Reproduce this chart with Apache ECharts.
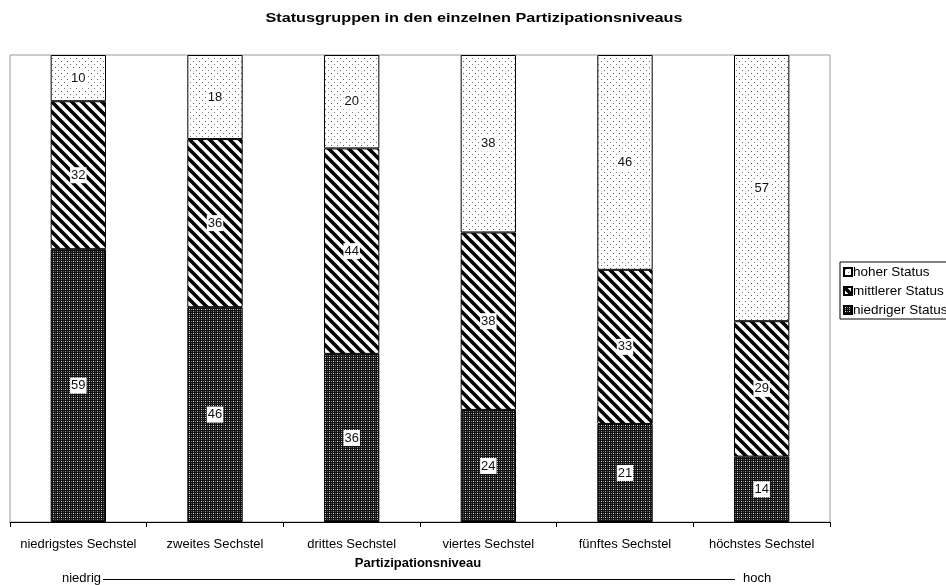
<!DOCTYPE html>
<html>
<head>
<meta charset="utf-8">
<script src="https://cdn.jsdelivr.net/npm/echarts@6/dist/echarts.min.js"></script>
<style>
  html, body { margin: 0; padding: 0; background: #fff; }
  #chart { width: 946px; height: 585px; }
</style>
</head>
<body>
<div id="chart"></div>
<script>
// Partizipationsniveau (Sechstel) and the share of each status group, in percent
const categories = ['niedrigstes Sechstel', 'zweites Sechstel', 'drittes Sechstel', 'viertes Sechstel', 'fünftes Sechstel', 'höchstes Sechstel'];
const niedrigerStatus = [59, 46, 36, 24, 21, 14];
const mittlererStatus = [32, 36, 44, 38, 33, 29];
const hoherStatus = [10, 18, 20, 38, 46, 57];
const seriesNames = ['hoher Status', 'mittlerer Status', 'niedriger Status'];

const FONT = '"Liberation Sans", Arial, sans-serif';

// Fill patterns drawn on small tiles
function tile(size, draw) {
  const c = document.createElement('canvas');
  c.width = size; c.height = size;
  const ctx = c.getContext('2d');
  draw(ctx, size);
  return { image: c, repeat: 'repeat' };
}

// sparse dots on white
const dotPattern = tile(6, (ctx, s) => {
  ctx.fillStyle = '#fff'; ctx.fillRect(0, 0, s, s);
  ctx.fillStyle = '#5a5a5a';
  ctx.fillRect(1, 1, 1, 1);
  ctx.fillStyle = '#7a7a7a';
  ctx.fillRect(4, 4, 1, 1);
});

// wide diagonal stripes running down to the right
const stripePattern = tile(10, (ctx, s) => {
  ctx.fillStyle = '#fff'; ctx.fillRect(0, 0, s, s);
  ctx.strokeStyle = '#000'; ctx.lineWidth = 3.6;
  for (let k = -s; k <= s; k += s) {
    ctx.beginPath();
    ctx.moveTo(k - 2, -2);
    ctx.lineTo(k + s + 2, s + 2);
    ctx.stroke();
  }
});

// dense dark weave
const darkPattern = tile(4, (ctx, s) => {
  ctx.fillStyle = '#111'; ctx.fillRect(0, 0, s, s);
  ctx.fillStyle = '#e0e0e0'; ctx.fillRect(1, 1, 1, 1);
  ctx.fillStyle = '#7a7a7a'; ctx.fillRect(3, 1, 1, 1);
  ctx.fillStyle = '#8c8c8c'; ctx.fillRect(1, 3, 1, 1);
  ctx.fillStyle = '#4a4a4a'; ctx.fillRect(3, 3, 1, 1);
});

// each column is drawn as its share of the column total (100 % stacked)
const totals = categories.map((_, i) => niedrigerStatus[i] + mittlererStatus[i] + hoherStatus[i]);
function shares(values) {
  return values.map((v, i) => ({ value: v / totals[i] * 100, raw: v }));
}

function makeSeries(name, values, pattern) {
  return {
    name: name,
    type: 'bar',
    stack: 'status',
    barWidth: '40.5%',
    data: shares(values),
    itemStyle: { color: pattern, borderColor: '#000', borderWidth: 1 },
    emphasis: { disabled: true },
    label: {
      show: true,
      position: 'inside',
      formatter: p => String(p.data.raw),
      color: '#111',
      fontFamily: FONT,
      fontSize: 13,
      backgroundColor: '#fff',
      padding: [2, 1, 1, 1]
    }
  };
}

const chart = echarts.init(document.getElementById('chart'), null, { renderer: 'canvas' });

chart.setOption({
  animation: false,
  backgroundColor: '#fff',
  legend: {
    orient: 'vertical',
    left: 840,
    top: 262,
    data: seriesNames,
    backgroundColor: '#fff',
    borderColor: '#000',
    borderWidth: 1,
    borderRadius: 0,
    padding: [3, 4, 2, 3],
    itemWidth: 8,
    itemHeight: 8,
    itemGap: 5,
    icon: 'rect',
    textStyle: { fontFamily: FONT, fontSize: 13.5, color: '#000', padding: [0, 0, 0, -4] }
  },
  grid: {
    left: 10,
    right: 116,
    top: 55,
    bottom: 63,
    show: true,
    borderColor: '#9a9a9a',
    borderWidth: 1,
    backgroundColor: 'transparent'
  },
  xAxis: {
    type: 'category',
    data: categories,
    boundaryGap: true,
    axisLine: { show: true, lineStyle: { color: '#000', width: 1 } },
    axisTick: { show: true, length: 5, lineStyle: { color: '#000' } },
    axisLabel: { fontFamily: FONT, fontSize: 13, color: '#000', margin: 16, interval: 0 }
  },
  yAxis: {
    type: 'value',
    min: 0,
    max: 100,
    show: false,
    splitLine: { show: false }
  },
  series: [
    makeSeries('niedriger Status', niedrigerStatus, darkPattern),
    makeSeries('mittlerer Status', mittlererStatus, stripePattern),
    makeSeries('hoher Status', hoherStatus, dotPattern)
  ],
  graphic: [
    {
      // chart title, set a little wide
      type: 'text', silent: true, x: 474, y: 18, scaleX: 1.25,
      style: {
        text: 'Statusgruppen in den einzelnen Partizipationsniveaus',
        font: 'bold 13px ' + FONT, fill: '#000', align: 'center', verticalAlign: 'middle'
      }
    },
    {
      type: 'text', silent: true, x: 418, y: 563,
      style: { text: 'Partizipationsniveau', font: 'bold 13px ' + FONT, fill: '#000', align: 'center', verticalAlign: 'middle' }
    },
    {
      type: 'text', silent: true, x: 101, y: 578,
      style: { text: 'niedrig', font: '13px ' + FONT, fill: '#000', align: 'right', verticalAlign: 'middle' }
    },
    {
      type: 'line', silent: true,
      shape: { x1: 103, y1: 579.5, x2: 735, y2: 579.5 },
      style: { stroke: '#000', lineWidth: 1 }
    },
    {
      type: 'text', silent: true, x: 743, y: 578,
      style: { text: 'hoch', font: '13px ' + FONT, fill: '#000', align: 'left', verticalAlign: 'middle' }
    }
  ]
});
</script>
</body>
</html>
